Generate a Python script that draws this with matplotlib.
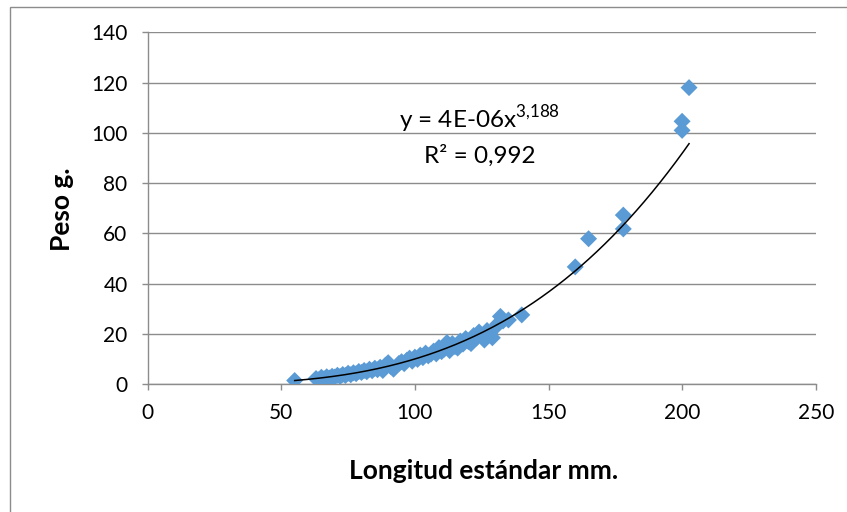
import matplotlib
matplotlib.use('Agg')
import matplotlib.pyplot as plt
from matplotlib.patches import Rectangle
import numpy as np

plt.rcParams['font.family'] = ['Lato', 'DejaVu Sans']
plt.rcParams['mathtext.fontset'] = 'custom'
plt.rcParams['mathtext.rm'] = 'Lato'

W, H = 847, 512

# --- DATOS ---
longitud = [55, 63, 64, 65, 66, 67, 68, 69, 70, 71, 72, 73, 74, 75, 76, 77, 78, 79,
            80, 81, 82, 83, 84, 85, 86, 87, 88, 89, 90, 91, 92, 94, 95, 96, 97, 98,
            99, 100, 101, 102, 103, 104, 105, 106, 107, 108, 109, 110, 111, 112,
            113, 114, 115, 116, 117, 118, 119, 120, 121, 122, 123, 124, 125, 126,
            127, 128, 129, 130, 131, 132, 133, 135, 140, 160, 165, 178, 178, 200,
            200, 202.6]
peso = [1.5, 2.3, 1.8, 2.8, 2.2, 3.0, 2.5, 3.2, 2.9, 3.6, 3.1, 3.9, 3.5, 4.4, 3.8,
        4.6, 4.2, 5.1, 4.7, 5.5, 5.0, 6.0, 5.4, 6.4, 5.8, 6.8, 5.5, 7.6, 8.6, 7.0,
        6.0, 8.3, 9.0, 8.2, 9.6, 10.4, 9.2, 10.8, 9.9, 11.6, 10.6, 12.4, 11.3,
        12.0, 13.2, 12.1, 14.6, 13.0, 14.0, 16.6, 13.4, 16.2, 15.0, 14.4, 17.2,
        16.0, 18.2, 17.0, 16.2, 19.4, 18.4, 20.8, 19.2, 17.6, 21.4, 20.2, 18.5,
        22.6, 24.0, 27.0, 25.2, 25.6, 27.6, 46.7, 57.9, 67.3, 61.8, 104.6, 101.0,
        118.0]

x_ticks = [0, 50, 100, 150, 200, 250]
y_ticks = [0, 20, 40, 60, 80, 100, 120, 140]

# línea de tendencia potencial (coeficientes de Excel, sin redondear)
COEF_A = 4.24e-6
COEF_B = 3.188

ecuacion = r'y = 4E-06x$^{\mathrm{3{,}188}}$'
r2_texto = 'R² = 0,992'

AZUL = '#5B9BD5'
GRIS = '#8C8C8C'

xs = np.linspace(min(longitud), max(longitud), 300)
ys = COEF_A * xs ** COEF_B

fig = plt.figure(figsize=(W / 100, H / 100), dpi=100)
ax = fig.add_axes([147.7 / W, 1 - 384.3 / H, 668 / W, 352 / H])


def px(x, y):
    # pixel (desde arriba-izquierda) -> coordenadas de figura
    return x / W, 1 - y / H


ax.scatter(longitud, peso, marker='D', s=75, color=AZUL, edgecolors='none', zorder=3)
ax.plot(xs, ys, color='black', lw=1.1, zorder=4)

ax.set_xlim(0, 250)
ax.set_ylim(0, 140)
ax.set_xticks(x_ticks)
ax.set_yticks(y_ticks)
ax.grid(axis='y', color=GRIS, lw=1)
ax.set_axisbelow(True)
for s in ['top', 'right']:
    ax.spines[s].set_visible(False)
for s in ['left', 'bottom']:
    ax.spines[s].set_color(GRIS)
    ax.spines[s].set_linewidth(1)
ax.tick_params(axis='both', direction='out', length=4.5, width=1, color=GRIS, labelsize=15)
ax.tick_params(axis='y', pad=10)
ax.tick_params(axis='x', pad=9)

fig.text(*px(484, 471), 'Longitud estándar mm.', fontsize=19, fontweight='bold',
         ha='center', va='center')
fig.text(*px(62, 209), 'Peso g.', fontsize=19, fontweight='bold',
         ha='center', va='center', rotation=90)

fig.text(*px(479, 128), ecuacion, fontsize=17.5, ha='center', va='baseline')
fig.text(*px(480, 163), r2_texto, fontsize=17.5, ha='center', va='baseline')

fig.patches.append(Rectangle((10 / W, -0.1), 1.2, 1.1 - 7 / H,
                             transform=fig.transFigure, fill=False, edgecolor=GRIS, lw=1))

fig.savefig('out.png', dpi=100)
